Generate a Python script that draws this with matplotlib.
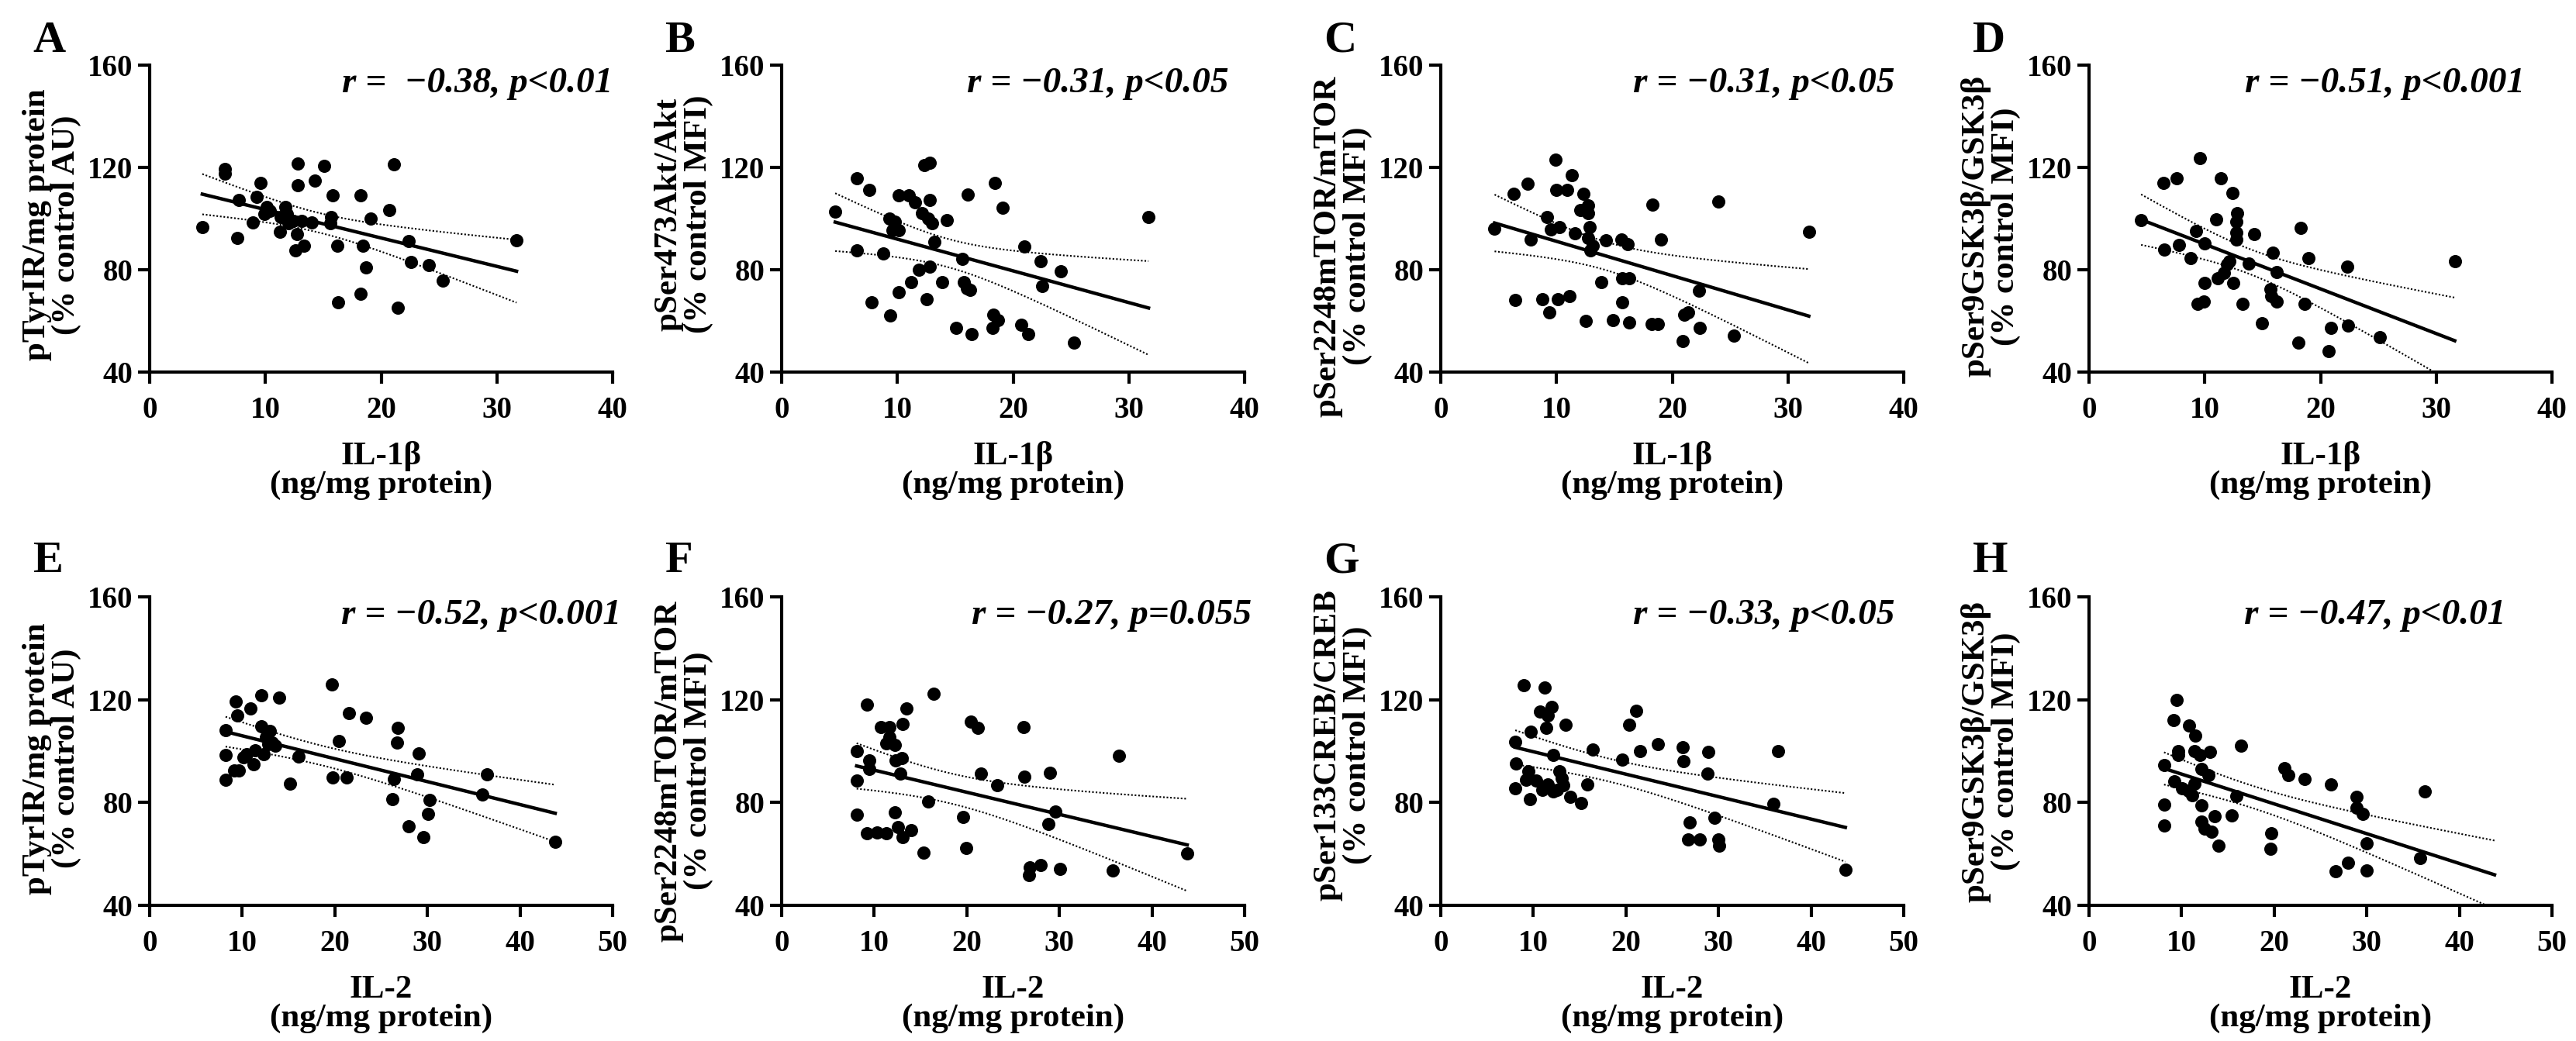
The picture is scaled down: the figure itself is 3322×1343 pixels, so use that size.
import numpy as np
import matplotlib.pyplot as plt

plt.rcParams['font.family'] = ['Liberation Serif', 'DejaVu Serif']
plt.rcParams['font.weight'] = 'bold'
plt.rcParams['axes.labelweight'] = 'bold'

# 95% two-sided t value for n-2 ~ 42 degrees of freedom
T_CRIT = 2.02

# ---- panel data ----
a_x = [4.55, 6.5, 6.5, 7.7, 7.6, 9.6, 9.25, 8.9, 10.1, 9.9, 10.4, 11.3, 11.7, 11.85, 11.25,
       12.0, 12.4, 12.8, 12.8, 12.7, 12.6, 13.3, 13.1, 14.0, 14.3, 15.05, 15.8, 15.7, 15.6,
       16.2, 16.3, 18.25, 18.4, 18.7, 18.25, 19.1, 20.7, 21.1, 21.45, 22.35, 22.6, 24.1, 25.3, 31.7]
a_y = [96.6, 119.4, 117.5, 107.3, 92.5, 113.8, 108.4, 98.6, 104.5, 101.9, 102.9, 100.5, 104.5, 101.9, 94.7,
       98.2, 99.2, 121.4, 112.9, 94.0, 87.5, 89.5, 99.2, 98.6, 114.9, 120.7, 109.0, 100.5, 98.2,
       89.5, 67.3, 109.0, 89.5, 81.0, 70.6, 99.9, 103.4, 121.1, 65.1, 91.2, 83.0, 81.7, 75.8, 91.4]

b_x = [4.63, 6.5, 6.5, 7.6, 7.75, 8.8, 9.3, 9.35, 9.8, 9.6, 10.1, 10.15, 10.1, 11.0, 11.5, 11.2,
       11.85, 12.1, 12.35, 12.8, 12.8, 12.65, 12.8, 13.0, 12.5, 13.2, 14.3, 13.9, 15.1, 15.6,
       15.75, 16.0, 16.3, 16.1, 16.4, 18.4, 18.3, 18.2, 18.7, 19.1, 21.0, 20.7, 21.3, 22.35,
       22.5, 24.1, 25.25, 31.7]
b_y = [102.6, 115.9, 87.5, 111.1, 67.2, 86.4, 100.0, 62.0, 98.8, 95.5, 95.5, 109.1, 71.1, 109.1, 106.5, 75.0,
       79.9, 102.0, 120.8, 121.7, 107.2, 100.0, 81.2, 98.1, 68.5, 91.0, 99.4, 75.0, 57.2, 84.1,
       75.0, 72.8, 72.2, 109.4, 54.9, 113.9, 62.4, 57.2, 60.2, 104.3, 89.0, 58.5, 54.9, 83.2,
       73.7, 79.3, 51.4, 100.7]

c_x = [4.65, 6.3, 6.4, 7.5, 7.75, 8.8, 9.2, 9.35, 9.5, 9.9, 10.1, 10.0, 10.25, 10.95, 11.15, 11.3,
       11.6, 12.05, 12.3, 12.5, 12.7, 12.7, 12.85, 12.7, 12.95, 13.1, 13.9, 14.3, 14.9, 15.7,
       15.6, 15.7, 16.15, 16.3, 16.3, 18.3, 18.2, 18.75, 19.0, 20.9, 21.05, 21.4, 22.4, 22.3,
       24.0, 25.3, 31.8]
c_y = [96.2, 109.8, 68.3, 113.7, 91.9, 68.5, 100.5, 63.3, 95.8, 123.0, 68.5, 111.3, 96.8, 111.1, 69.6, 116.9,
       94.2, 103.3, 109.8, 60.1, 105.2, 102.0, 96.8, 92.3, 87.7, 89.3, 75.0, 91.6, 60.2, 67.2,
       91.9, 76.7, 90.1, 76.7, 59.5, 105.6, 58.9, 58.9, 91.9, 52.1, 62.4, 63.3, 57.2, 71.9,
       106.8, 54.3, 94.9]

d_x = [4.5, 6.4, 6.5, 7.55, 7.75, 8.8, 9.25, 9.35, 9.6, 9.9, 10.0, 10.0, 11.0, 11.1, 11.4, 11.65,
       11.95, 12.1, 12.4, 12.45, 12.8, 12.75, 12.75, 12.75, 13.25, 13.8, 14.25, 14.95, 15.9,
       15.65, 15.75, 16.2, 16.2, 18.3, 18.1, 18.6, 18.95, 20.7, 20.9, 22.3, 22.4, 25.1, 31.6]
d_y = [99.3, 113.9, 87.9, 115.8, 89.8, 84.6, 95.0, 66.8, 123.6, 67.7, 90.2, 74.9, 99.8, 76.8, 115.8, 78.8,
       82.0, 83.3, 110.0, 74.9, 102.2, 98.9, 94.4, 91.8, 66.8, 82.5, 94.0, 59.0, 86.8,
       72.3, 69.6, 79.0, 67.7, 96.3, 51.4, 66.8, 84.6, 48.2, 57.3, 81.1, 58.2, 53.7, 83.3]

e_x = [8.2, 8.2, 8.2, 9.3, 9.5, 9.1, 9.65, 10.1, 10.5, 10.9, 11.2, 11.4, 12.1, 12.1, 12.35, 12.55,
       12.8, 13.0, 13.2, 13.6, 14.0, 15.2, 16.1, 19.7, 19.8, 20.45, 21.25, 21.5, 23.4, 26.2,
       26.4, 26.75, 26.8, 28.0, 28.9, 29.1, 29.6, 30.1, 30.2, 35.9, 36.4, 43.8]
e_y = [108.0, 98.6, 88.8, 119.4, 113.8, 92.4, 92.4, 97.6, 98.9, 116.6, 95.0, 100.2, 121.6, 109.7, 98.9, 105.4,
       102.8, 107.7, 103.4, 102.1, 120.7, 87.2, 98.0, 125.9, 89.8, 104.0, 89.8, 114.7, 113.1, 81.4,
       89.1, 103.4, 108.9, 70.7, 91.1, 99.1, 66.6, 75.7, 81.1, 83.1, 91.1, 64.6]

f_x = [8.1, 8.1, 8.1, 9.2, 9.5, 9.5, 9.2, 10.3, 10.7, 11.3, 11.3, 11.6, 11.65, 12.2, 12.3, 12.2,
       12.6, 12.95, 12.85, 13.1, 13.1, 13.5, 14.0, 15.3, 15.8, 16.4, 19.6, 19.9, 20.4, 21.2,
       21.55, 23.3, 26.1, 26.2, 26.7, 26.8, 28.0, 28.8, 29.0, 29.6, 30.1, 35.8, 36.4, 43.8]
f_y = [99.9, 88.6, 75.3, 118.1, 96.4, 93.2, 67.9, 68.3, 109.4, 67.9, 102.9, 109.4, 105.5, 102.3, 96.4, 76.3,
       70.5, 97.3, 91.2, 110.7, 66.6, 116.5, 69.2, 60.5, 80.5, 122.4, 74.3, 62.3, 111.6, 109.0,
       91.2, 86.6, 109.4, 89.9, 51.7, 54.9, 55.6, 71.8, 91.6, 76.6, 54.3, 53.6, 98.3, 60.1]

g_x = [8.05, 8.1, 8.05, 9.0, 9.7, 9.5, 9.25, 9.6, 10.3, 10.7, 11.25, 11.4, 11.55, 11.0, 11.55, 12.0,
       12.15, 12.15, 12.6, 12.8, 13.05, 13.2, 13.5, 13.95, 15.2, 15.85, 16.4, 19.6, 20.35, 21.1,
       21.5, 23.45, 26.1, 26.2, 26.7, 26.9, 28.0, 28.9, 28.8, 29.6, 30.0, 30.1, 35.9, 36.4, 43.7]
g_y = [103.7, 95.3, 85.6, 125.7, 107.6, 92.3, 88.8, 81.4, 88.4, 115.3, 124.7, 109.1, 114.0, 84.9, 86.9, 117.2,
       98.5, 84.3, 84.9, 92.1, 89.5, 86.6, 110.2, 82.3, 79.7, 86.9, 100.5, 96.6, 110.2, 115.6,
       100.1, 102.7, 101.4, 96.2, 65.5, 72.4, 65.5, 99.8, 91.4, 74.2, 65.5, 63.3, 79.4, 100.1, 53.9]

# last point of H lies below the axis range (hidden in the original, estimated)
h_x = [8.1, 8.1, 8.1, 9.15, 9.45, 9.6, 9.6, 9.25, 10.05, 10.8, 10.7, 11.1, 11.5, 11.4, 11.4, 12.0,
       12.15, 12.15, 12.15, 12.5, 12.9, 13.05, 13.2, 13.6, 13.95, 15.4, 15.95, 16.4, 19.7, 19.6,
       21.1, 21.5, 23.3, 26.1, 26.65, 28.0, 28.9, 28.9, 29.55, 30.0, 30.0, 35.8, 36.25, 43.8]
h_y = [94.7, 79.2, 71.1, 112.0, 119.8, 99.9, 98.4, 88.2, 85.4, 110.1, 84.7, 82.8, 105.9, 87.3, 99.9, 98.4,
       93.2, 78.9, 72.7, 69.8, 90.6, 99.7, 68.5, 74.8, 63.3, 75.0, 82.5, 102.0, 67.9, 62.0,
       93.4, 90.6, 89.0, 87.0, 53.2, 56.6, 82.2, 77.9, 75.7, 64.0, 53.6, 58.4, 84.4, 36.0]

letters = ['A', 'B', 'C', 'D', 'E', 'F', 'G', 'H']
xs_data = [a_x, b_x, c_x, d_x, e_x, f_x, g_x, h_x]
ys_data = [a_y, b_y, c_y, d_y, e_y, f_y, g_y, h_y]

ylabels = ['pTyrIR/mg protein\n(% control AU)',
           'pSer473Akt/Akt\n(% control MFI)',
           'pSer2248mTOR/mTOR\n(% control MFI)',
           'pSer9GSK3β/GSK3β\n(% control MFI)',
           'pTyrIR/mg protein\n(% control AU)',
           'pSer2248mTOR/mTOR\n(% control MFI)',
           'pSer133CREB/CREB\n(% control MFI)',
           'pSer9GSK3β/GSK3β\n(% control MFI)']
xlabels = ['IL-1β\n(ng/mg protein)'] * 4 + ['IL-2\n(ng/mg protein)'] * 4
stats = ['r =  −0.38, p<0.01', 'r = −0.31, p<0.05', 'r = −0.31, p<0.05', 'r = −0.51, p<0.001',
         'r = −0.52, p<0.001', 'r = −0.27, p=0.055', 'r = −0.33, p<0.05', 'r = −0.47, p<0.01']
xmax = [40] * 4 + [50] * 4
stat_right = [1.0, 0.965, 0.98, 0.942, 1.018, 1.015, 0.98, 0.90]
ylab_center = [0.48, 0.515, 0.41, 0.475, 0.476, 0.436, 0.52, 0.50]


def fit_band(x, y):
    x = np.asarray(x, float)
    y = np.asarray(y, float)
    n = len(x)
    slope, icpt = np.polyfit(x, y, 1)
    xs = np.linspace(x.min(), x.max(), 200)
    yhat = icpt + slope * xs
    resid = y - (icpt + slope * x)
    s = np.sqrt(np.sum(resid ** 2) / (n - 2))
    sxx = np.sum((x - x.mean()) ** 2)
    se = s * np.sqrt(1.0 / n + (xs - x.mean()) ** 2 / sxx)
    return xs, yhat, yhat - T_CRIT * se, yhat + T_CRIT * se


W, H = 3322, 1343
fig = plt.figure(figsize=(W / 100, H / 100), dpi=100)

lefts = [193, 1008, 1858, 2694]
rows = [(480, 396), (1168, 398)]  # (bottom px, height px)
ax_w = 597

for i in range(8):
    r, c = divmod(i, 4)
    bot, hgt = rows[r]
    ax = fig.add_axes([lefts[c] / W, 1 - bot / H, ax_w / W, hgt / H])

    x, y = xs_data[i], ys_data[i]
    xs, yhat, lo, hi = fit_band(x, y)
    ax.scatter(x, y, s=150, c='black', linewidths=0, zorder=3)
    ax.plot(xs, yhat, color='black', lw=3.2, zorder=2)
    ax.plot(xs, lo, color='black', lw=1.5, ls=(0, (1, 1.2)), zorder=2)
    ax.plot(xs, hi, color='black', lw=1.5, ls=(0, (1, 1.2)), zorder=2)

    ax.set_xlim(0, xmax[i])
    ax.set_ylim(40, 160)
    ax.set_xticks(np.arange(0, xmax[i] + 1, 10))
    ax.set_yticks([40, 80, 120, 160])
    for sp in ['top', 'right']:
        ax.spines[sp].set_visible(False)
    for sp in ['left', 'bottom']:
        ax.spines[sp].set_linewidth(3)
    ax.tick_params(direction='out', length=10.5, width=3, labelsize=28)
    ax.tick_params(axis='x', pad=12)
    ax.tick_params(axis='y', pad=5)

    ax.set_ylabel(ylabels[i], fontsize=31, linespacing=1.0)
    ax.yaxis.set_label_coords(-0.147, ylab_center[i])
    ax.set_xlabel(xlabels[i], fontsize=31, linespacing=0.95)
    ax.xaxis.set_label_coords(0.5, -0.225)

    ax.text(stat_right[i], 0.912, stats[i], transform=ax.transAxes, ha='right',
            va='baseline', fontsize=34, style='italic', fontweight='bold')
    ax.text(-0.252, 1.145 if r == 0 else 1.18, letters[i], transform=ax.transAxes,
            ha='left', va='top', fontsize=42, fontweight='bold')

fig.savefig('out.png', dpi=100)
